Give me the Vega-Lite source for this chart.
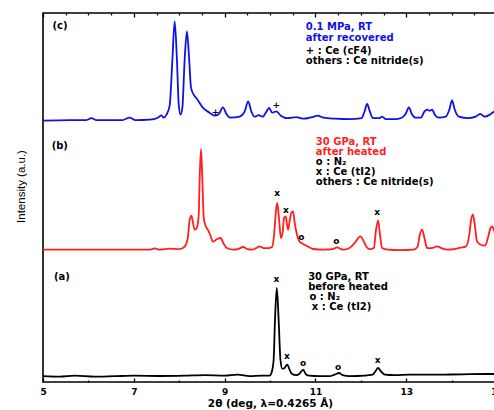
{
  "$schema": "https://vega.github.io/schema/vega-lite/v6.json",
  "width": 454,
  "height": 369,
  "autosize": {"type": "none"},
  "padding": {"left": 43, "top": 13, "right": 0, "bottom": 28},
  "background": "white",
  "config": {
    "view": {"stroke": "#000000", "strokeWidth": 1.6},
    "axisY": {"labels": false, "ticks": false, "domain": false, "grid": false, "titleFont": "Liberation Sans Narrow, Liberation Sans", "titleFontWeight": "normal", "titleFontSize": 11.5, "titleColor": "#000000", "titlePadding": 17, "titleY": 173}
  },
  "datasets": {
    "traces": [
      {"series":"c","two_theta":5.00,"intensity":261.3},{"series":"c","two_theta":5.59,"intensity":261.8},{"series":"c","two_theta":5.94,"intensity":261.8},{"series":"c","two_theta":6.07,"intensity":263.8},{"series":"c","two_theta":6.18,"intensity":261.8},{"series":"c","two_theta":6.73,"intensity":261.8},{"series":"c","two_theta":6.91,"intensity":264.3},{"series":"c","two_theta":7.04,"intensity":261.8},{"series":"c","two_theta":7.35,"intensity":262.3},{"series":"c","two_theta":7.53,"intensity":264.3},{"series":"c","two_theta":7.61,"intensity":266.6},{"series":"c","two_theta":7.66,"intensity":264.3},{"series":"c","two_theta":7.72,"intensity":267.3},{"series":"c","two_theta":7.79,"intensity":276.3},{"series":"c","two_theta":7.85,"intensity":322.3},{"series":"c","two_theta":7.90,"intensity":360.6},{"series":"c","two_theta":7.95,"intensity":322.3},{"series":"c","two_theta":7.99,"intensity":277.3},{"series":"c","two_theta":8.03,"intensity":267.3},{"series":"c","two_theta":8.07,"intensity":274.3},{"series":"c","two_theta":8.12,"intensity":322.3},{"series":"c","two_theta":8.17,"intensity":350.6},{"series":"c","two_theta":8.22,"intensity":322.3},{"series":"c","two_theta":8.26,"intensity":294.3},{"series":"c","two_theta":8.32,"intensity":287.3},{"series":"c","two_theta":8.39,"intensity":283.3},{"series":"c","two_theta":8.52,"intensity":274.3},{"series":"c","two_theta":8.67,"intensity":269.3},{"series":"c","two_theta":8.80,"intensity":266.3},{"series":"c","two_theta":8.88,"intensity":268.3},{"series":"c","two_theta":8.96,"intensity":274.6},{"series":"c","two_theta":9.05,"intensity":267.3},{"series":"c","two_theta":9.13,"intensity":264.3},{"series":"c","two_theta":9.33,"intensity":265.3},{"series":"c","two_theta":9.44,"intensity":270.3},{"series":"c","two_theta":9.52,"intensity":280.6},{"series":"c","two_theta":9.59,"intensity":270.3},{"series":"c","two_theta":9.66,"intensity":265.3},{"series":"c","two_theta":9.75,"intensity":266.8},{"series":"c","two_theta":9.84,"intensity":265.3},{"series":"c","two_theta":9.92,"intensity":270.3},{"series":"c","two_theta":9.98,"intensity":274.0},{"series":"c","two_theta":10.05,"intensity":269.3},{"series":"c","two_theta":10.14,"intensity":270.6},{"series":"c","two_theta":10.24,"intensity":266.3},{"series":"c","two_theta":10.39,"intensity":263.8},{"series":"c","two_theta":10.58,"intensity":264.8},{"series":"c","two_theta":10.72,"intensity":263.3},{"series":"c","two_theta":10.92,"intensity":264.8},{"series":"c","two_theta":11.05,"intensity":266.3},{"series":"c","two_theta":11.18,"intensity":264.3},{"series":"c","two_theta":11.43,"intensity":263.3},{"series":"c","two_theta":11.76,"intensity":262.8},{"series":"c","two_theta":12.02,"intensity":263.8},{"series":"c","two_theta":12.08,"intensity":270.3},{"series":"c","two_theta":12.14,"intensity":278.0},{"series":"c","two_theta":12.20,"intensity":270.3},{"series":"c","two_theta":12.27,"intensity":263.8},{"series":"c","two_theta":12.40,"intensity":263.8},{"series":"c","two_theta":12.47,"intensity":265.3},{"series":"c","two_theta":12.55,"intensity":262.8},{"series":"c","two_theta":12.75,"intensity":262.8},{"series":"c","two_theta":12.90,"intensity":264.3},{"series":"c","two_theta":12.99,"intensity":268.3},{"series":"c","two_theta":13.06,"intensity":274.6},{"series":"c","two_theta":13.12,"intensity":268.3},{"series":"c","two_theta":13.21,"intensity":264.3},{"series":"c","two_theta":13.32,"intensity":264.3},{"series":"c","two_theta":13.40,"intensity":270.3},{"series":"c","two_theta":13.46,"intensity":272.3},{"series":"c","two_theta":13.52,"intensity":271.3},{"series":"c","two_theta":13.57,"intensity":272.3},{"series":"c","two_theta":13.63,"intensity":267.3},{"series":"c","two_theta":13.72,"intensity":264.3},{"series":"c","two_theta":13.87,"intensity":265.3},{"series":"c","two_theta":13.95,"intensity":272.3},{"series":"c","two_theta":14.01,"intensity":281.6},{"series":"c","two_theta":14.07,"intensity":272.3},{"series":"c","two_theta":14.16,"intensity":265.3},{"series":"c","two_theta":14.36,"intensity":263.8},{"series":"c","two_theta":14.53,"intensity":265.3},{"series":"c","two_theta":14.63,"intensity":268.0},{"series":"c","two_theta":14.73,"intensity":265.3},{"series":"c","two_theta":14.84,"intensity":267.3},{"series":"c","two_theta":14.93,"intensity":270.3},{"series":"c","two_theta":15.00,"intensity":272.3},
      {"series":"b","two_theta":5.00,"intensity":132.3},{"series":"b","two_theta":6.25,"intensity":132.3},{"series":"b","two_theta":7.35,"intensity":132.3},{"series":"b","two_theta":7.46,"intensity":133.6},{"series":"b","two_theta":7.57,"intensity":132.3},{"series":"b","two_theta":7.79,"intensity":133.3},{"series":"b","two_theta":8.01,"intensity":132.8},{"series":"b","two_theta":8.12,"intensity":135.3},{"series":"b","two_theta":8.19,"intensity":144.3},{"series":"b","two_theta":8.23,"intensity":162.3},{"series":"b","two_theta":8.27,"intensity":166.3},{"series":"b","two_theta":8.30,"intensity":160.3},{"series":"b","two_theta":8.34,"intensity":152.3},{"series":"b","two_theta":8.39,"intensity":154.3},{"series":"b","two_theta":8.43,"intensity":167.3},{"series":"b","two_theta":8.45,"intensity":202.3},{"series":"b","two_theta":8.48,"intensity":233.0},{"series":"b","two_theta":8.51,"intensity":202.3},{"series":"b","two_theta":8.54,"intensity":164.3},{"series":"b","two_theta":8.58,"intensity":156.3},{"series":"b","two_theta":8.63,"intensity":152.3},{"series":"b","two_theta":8.69,"intensity":146.3},{"series":"b","two_theta":8.74,"intensity":140.3},{"series":"b","two_theta":8.83,"intensity":142.8},{"series":"b","two_theta":8.91,"intensity":144.0},{"series":"b","two_theta":8.98,"intensity":138.3},{"series":"b","two_theta":9.05,"intensity":134.0},{"series":"b","two_theta":9.19,"intensity":132.3},{"series":"b","two_theta":9.29,"intensity":132.8},{"series":"b","two_theta":9.41,"intensity":135.0},{"series":"b","two_theta":9.51,"intensity":132.8},{"series":"b","two_theta":9.60,"intensity":132.3},{"series":"b","two_theta":9.69,"intensity":133.8},{"series":"b","two_theta":9.77,"intensity":135.6},{"series":"b","two_theta":9.86,"intensity":133.8},{"series":"b","two_theta":9.96,"intensity":133.8},{"series":"b","two_theta":10.05,"intensity":135.3},{"series":"b","two_theta":10.09,"intensity":147.3},{"series":"b","two_theta":10.13,"intensity":170.3},{"series":"b","two_theta":10.16,"intensity":179.0},{"series":"b","two_theta":10.20,"intensity":162.3},{"series":"b","two_theta":10.24,"intensity":144.0},{"series":"b","two_theta":10.28,"intensity":150.3},{"series":"b","two_theta":10.31,"intensity":164.3},{"series":"b","two_theta":10.35,"intensity":165.6},{"series":"b","two_theta":10.37,"intensity":158.3},{"series":"b","two_theta":10.40,"intensity":152.3},{"series":"b","two_theta":10.43,"intensity":160.3},{"series":"b","two_theta":10.47,"intensity":169.3},{"series":"b","two_theta":10.51,"intensity":170.6},{"series":"b","two_theta":10.54,"intensity":160.3},{"series":"b","two_theta":10.58,"intensity":150.3},{"series":"b","two_theta":10.65,"intensity":140.6},{"series":"b","two_theta":10.72,"intensity":138.3},{"series":"b","two_theta":10.80,"intensity":136.3},{"series":"b","two_theta":10.95,"intensity":133.0},{"series":"b","two_theta":11.18,"intensity":132.3},{"series":"b","two_theta":11.38,"intensity":132.8},{"series":"b","two_theta":11.48,"intensity":134.6},{"series":"b","two_theta":11.56,"intensity":132.8},{"series":"b","two_theta":11.62,"intensity":132.3},{"series":"b","two_theta":11.76,"intensity":134.3},{"series":"b","two_theta":11.87,"intensity":139.3},{"series":"b","two_theta":11.99,"intensity":145.6},{"series":"b","two_theta":12.07,"intensity":140.3},{"series":"b","two_theta":12.13,"intensity":134.8},{"series":"b","two_theta":12.20,"intensity":132.8},{"series":"b","two_theta":12.29,"intensity":134.3},{"series":"b","two_theta":12.33,"intensity":150.3},{"series":"b","two_theta":12.38,"intensity":161.6},{"series":"b","two_theta":12.42,"intensity":148.3},{"series":"b","two_theta":12.47,"intensity":134.0},{"series":"b","two_theta":12.59,"intensity":132.3},{"series":"b","two_theta":12.86,"intensity":131.8},{"series":"b","two_theta":13.16,"intensity":132.3},{"series":"b","two_theta":13.25,"intensity":135.3},{"series":"b","two_theta":13.30,"intensity":147.3},{"series":"b","two_theta":13.35,"intensity":152.3},{"series":"b","two_theta":13.40,"intensity":144.3},{"series":"b","two_theta":13.46,"intensity":134.0},{"series":"b","two_theta":13.56,"intensity":133.8},{"series":"b","two_theta":13.68,"intensity":135.6},{"series":"b","two_theta":13.78,"intensity":133.8},{"series":"b","two_theta":13.90,"intensity":132.3},{"series":"b","two_theta":14.06,"intensity":132.8},{"series":"b","two_theta":14.19,"intensity":134.3},{"series":"b","two_theta":14.31,"intensity":135.3},{"series":"b","two_theta":14.39,"intensity":147.3},{"series":"b","two_theta":14.43,"intensity":162.3},{"series":"b","two_theta":14.47,"intensity":167.3},{"series":"b","two_theta":14.51,"intensity":157.3},{"series":"b","two_theta":14.56,"intensity":140.6},{"series":"b","two_theta":14.64,"intensity":137.3},{"series":"b","two_theta":14.74,"intensity":136.3},{"series":"b","two_theta":14.80,"intensity":144.3},{"series":"b","two_theta":14.86,"intensity":154.3},{"series":"b","two_theta":14.89,"intensity":155.6},{"series":"b","two_theta":14.93,"intensity":152.3},{"series":"b","two_theta":14.99,"intensity":142.3},
      {"series":"a","two_theta":5.00,"intensity":5.8},{"series":"a","two_theta":5.37,"intensity":5.3},{"series":"a","two_theta":5.70,"intensity":6.3},{"series":"a","two_theta":6.14,"intensity":5.3},{"series":"a","two_theta":6.58,"intensity":5.8},{"series":"a","two_theta":7.02,"intensity":6.3},{"series":"a","two_theta":7.57,"intensity":6.0},{"series":"a","two_theta":8.12,"intensity":6.3},{"series":"a","two_theta":8.56,"intensity":6.8},{"series":"a","two_theta":9.00,"intensity":6.3},{"series":"a","two_theta":9.29,"intensity":7.3},{"series":"a","two_theta":9.55,"intensity":5.8},{"series":"a","two_theta":9.82,"intensity":6.3},{"series":"a","two_theta":9.99,"intensity":6.3},{"series":"a","two_theta":10.04,"intensity":10.3},{"series":"a","two_theta":10.08,"intensity":22.3},{"series":"a","two_theta":10.11,"intensity":62.3},{"series":"a","two_theta":10.15,"intensity":94.0},{"series":"a","two_theta":10.19,"intensity":62.3},{"series":"a","two_theta":10.23,"intensity":22.3},{"series":"a","two_theta":10.27,"intensity":13.3},{"series":"a","two_theta":10.30,"intensity":13.3},{"series":"a","two_theta":10.38,"intensity":17.3},{"series":"a","two_theta":10.44,"intensity":11.3},{"series":"a","two_theta":10.48,"intensity":8.3},{"series":"a","two_theta":10.58,"intensity":6.8},{"series":"a","two_theta":10.65,"intensity":8.3},{"series":"a","two_theta":10.73,"intensity":12.3},{"series":"a","two_theta":10.79,"intensity":7.8},{"series":"a","two_theta":10.87,"intensity":6.3},{"series":"a","two_theta":11.09,"intensity":5.8},{"series":"a","two_theta":11.31,"intensity":5.8},{"series":"a","two_theta":11.42,"intensity":7.3},{"series":"a","two_theta":11.52,"intensity":9.0},{"series":"a","two_theta":11.60,"intensity":6.8},{"series":"a","two_theta":11.75,"intensity":5.8},{"series":"a","two_theta":12.08,"intensity":6.3},{"series":"a","two_theta":12.26,"intensity":7.3},{"series":"a","two_theta":12.33,"intensity":11.3},{"series":"a","two_theta":12.38,"intensity":14.0},{"series":"a","two_theta":12.44,"intensity":10.8},{"series":"a","two_theta":12.53,"intensity":7.3},{"series":"a","two_theta":12.75,"intensity":6.8},{"series":"a","two_theta":13.08,"intensity":7.3},{"series":"a","two_theta":13.52,"intensity":7.3},{"series":"a","two_theta":13.96,"intensity":7.5},{"series":"a","two_theta":14.40,"intensity":7.8},{"series":"a","two_theta":14.93,"intensity":8.0},{"series":"a","two_theta":15.00,"intensity":8.0}
    ],
    "notes": [
      {"text":"(c)","two_theta":5.21,"intensity":353.3,"series":"key"},
      {"text":"(b)","two_theta":5.19,"intensity":232.8,"series":"key"},
      {"text":"(a)","two_theta":5.24,"intensity":102.3,"series":"key"},
      {"text":"0.1 MPa, RT","two_theta":10.79,"intensity":352.3,"series":"c"},
      {"text":"after recovered","two_theta":10.79,"intensity":340.8,"series":"c"},
      {"text":"+ : Ce (cF4)","two_theta":10.79,"intensity":328.3,"series":"key"},
      {"text":"others : Ce nitride(s)","two_theta":10.79,"intensity":318.3,"series":"key"},
      {"text":"30 GPa, RT","two_theta":11.01,"intensity":236.6,"series":"b"},
      {"text":"after heated","two_theta":11.01,"intensity":226.6,"series":"b"},
      {"text":"o : N₂","two_theta":11.01,"intensity":216.8,"series":"key"},
      {"text":"x : Ce (tI2)","two_theta":11.01,"intensity":206.8,"series":"key"},
      {"text":"others : Ce nitride(s)","two_theta":11.01,"intensity":196.8,"series":"key"},
      {"text":"30 GPa, RT","two_theta":10.84,"intensity":102.1,"series":"a"},
      {"text":"before heated","two_theta":10.84,"intensity":92.1,"series":"a"},
      {"text":"o : N₂","two_theta":10.87,"intensity":82.1,"series":"key"},
      {"text":"x : Ce (tI2)","two_theta":10.92,"intensity":72.1,"series":"key"}
    ],
    "markers": [
      {"sym":"+","two_theta":8.80,"intensity":270.0},
      {"sym":"+","two_theta":10.14,"intensity":277.3},
      {"sym":"x","two_theta":10.16,"intensity":189.0},
      {"sym":"x","two_theta":10.35,"intensity":172.3},
      {"sym":"o","two_theta":10.69,"intensity":145.0},
      {"sym":"o","two_theta":11.46,"intensity":140.6},
      {"sym":"x","two_theta":12.36,"intensity":169.6},
      {"sym":"x","two_theta":10.14,"intensity":103.3},
      {"sym":"x","two_theta":10.37,"intensity":25.6},
      {"sym":"o","two_theta":10.73,"intensity":19.0},
      {"sym":"o","two_theta":11.50,"intensity":15.0},
      {"sym":"x","two_theta":12.37,"intensity":22.3}
    ]
  },
  "layer": [
    {
      "data": {"name": "traces"},
      "mark": {"type": "line", "interpolate": "monotone", "strokeWidth": 1.8},
      "encoding": {
        "x": {
          "field": "two_theta", "type": "quantitative",
          "scale": {"domain": [5, 15], "nice": false, "zero": false},
          "axis": {
            "orient": "bottom",
            "values": [5,5.5,6,6.5,7,7.5,8,8.5,9,9.5,10,10.5,11,11.5,12,12.5,13,13.5,14,14.5,15],
            "format": "d",
            "labelExpr": "datum.value % 2 == 1 ? datum.label : ''",
            "labelOverlap": false, "labelFlush": false,
            "labelFont": "DejaVu Sans", "labelFontWeight": "bold", "labelFontSize": 9, "labelColor": "#000000",
            "labelPadding": 9,
            "domain": false, "grid": false,
            "tickColor": "#000000", "tickWidth": 1.3,
            "tickSize": {"condition": {"test": "datum.value % 2 == 1", "value": -4}, "value": -2},
            "title": "2θ (deg, λ=0.4265 Å)",
            "titleFont": "DejaVu Sans", "titleFontWeight": "bold", "titleFontSize": 10.5, "titleColor": "#000000",
            "titlePadding": 0
          }
        },
        "y": {
          "field": "intensity", "type": "quantitative",
          "scale": {"domain": [0, 369], "nice": false, "zero": false},
          "title": "Intensity (a.u.)"
        },
        "color": {
          "field": "series", "type": "nominal",
          "scale": {"domain": ["c","b","a","key"], "range": ["#1010e8","#ff1f1f","#000000","#000000"]},
          "legend": null
        }
      }
    },
    {
      "data": {"name": "notes"},
      "mark": {"type": "text", "align": "left", "baseline": "alphabetic", "font": "DejaVu Sans", "fontWeight": "bold", "fontSize": 10},
      "encoding": {
        "x": {
          "field": "two_theta", "type": "quantitative",
          "scale": {"domain": [5, 15], "nice": false, "zero": false},
          "axis": {
            "orient": "top",
            "values": [5,5.5,6,6.5,7,7.5,8,8.5,9,9.5,10,10.5,11,11.5,12,12.5,13,13.5,14,14.5,15],
            "labels": false, "domain": false, "grid": false, "title": null,
            "tickColor": "#000000", "tickWidth": 1.3,
            "tickSize": {"condition": {"test": "datum.value % 2 == 1", "value": -4}, "value": -2}
          }
        },
        "y": {"field": "intensity", "type": "quantitative", "title": "Intensity (a.u.)"},
        "text": {"field": "text", "type": "nominal"},
        "color": {
          "field": "series", "type": "nominal",
          "scale": {"domain": ["c","b","a","key"], "range": ["#1010e8","#ff1f1f","#000000","#000000"]},
          "legend": null
        }
      }
    },
    {
      "data": {"name": "markers"},
      "mark": {"type": "text", "align": "center", "baseline": "middle", "font": "DejaVu Sans", "fontWeight": "bold", "fontSize": 9, "color": "#000000"},
      "encoding": {
        "x": {"field": "two_theta", "type": "quantitative", "axis": null},
        "y": {"field": "intensity", "type": "quantitative", "title": "Intensity (a.u.)"},
        "text": {"field": "sym", "type": "nominal"}
      }
    }
  ],
  "resolve": {"axis": {"x": "independent"}}
}
